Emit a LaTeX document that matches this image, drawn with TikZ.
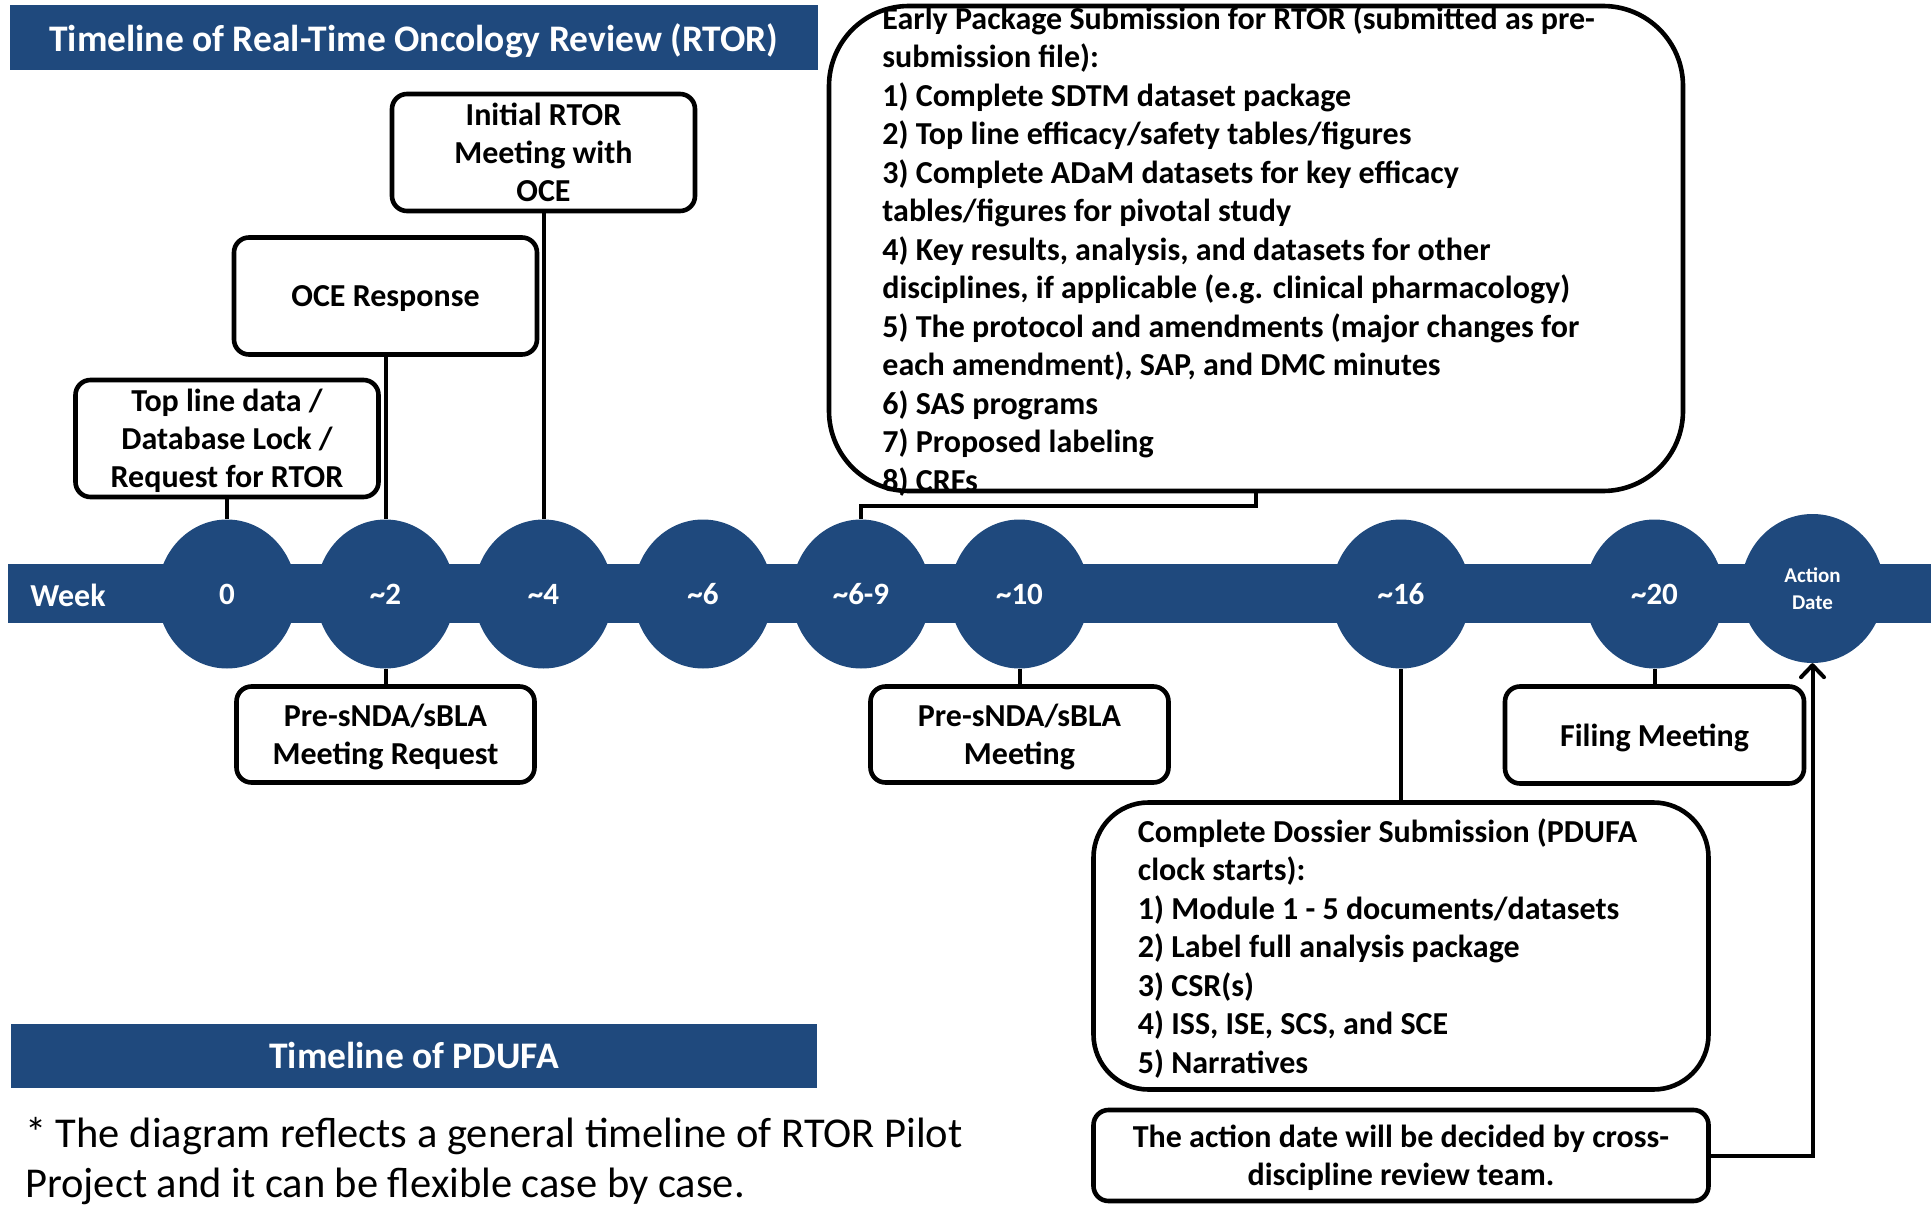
\documentclass[tikz,border=0pt]{standalone}
\usepackage{fontspec}
\setmainfont{Carlito}
\usepackage{tikz}
\usetikzlibrary{shapes.geometric}
\usetikzlibrary{arrows.meta}
\definecolor{rtorblue}{HTML}{1F497D}

\begin{document}
\begin{tikzpicture}[x=1pt, y=-1pt,
    banner/.style={fill=rtorblue, text=white, inner sep=0, text depth=0pt, font=\bfseries\fontsize{37.5}{45}\selectfont},
    weekdot/.style={ellipse, fill=rtorblue, text=white, minimum width=139pt, minimum height=149pt, inner sep=0, font=\bfseries\fontsize{31}{37}\selectfont},
    rtorbox/.style={draw, line width=4.6pt, rounded corners=15pt, fill=white, align=center, inner sep=0, text depth=0pt, font=\bfseries\fontsize{32}{38}\selectfont},
    listtext/.style={align=left, inner sep=0, text depth=0pt, font=\bfseries\fontsize{32}{38.5}\selectfont},
    link/.style={line width=4pt}]

    \useasboundingbox (0,0) rectangle (1931,1206);

    \node[banner, minimum width=808pt, minimum height=65pt] (rtortitle) at (414,37.5) {Timeline of Real-Time Oncology Review (RTOR)};
    \node[banner, minimum width=806pt, minimum height=64pt] (pdufatitle) at (414,1055.5) {Timeline of PDUFA};

    \node[fill=rtorblue, inner sep=0, minimum width=1923pt, minimum height=59pt, anchor=west] (weekbar) at (8,593.5) {};
    \node[text=white, inner sep=0, font=\bfseries\fontsize{32}{38}\selectfont] (weeklabel) at (68,595) {Week};

    \node[weekdot] (w0) at (227,594) {0};
    \node[weekdot] (w2) at (385.5,594) {\textasciitilde2};
    \node[weekdot] (w4) at (543.5,594) {\textasciitilde4};
    \node[weekdot] (w6) at (703,594) {\textasciitilde6};
    \node[weekdot] (w69) at (861,594) {\textasciitilde6-9};
    \node[weekdot] (w10) at (1019.5,594) {\textasciitilde10};
    \node[weekdot] (w16) at (1401,594) {\textasciitilde16};
    \node[weekdot] (w20) at (1654.5,594) {\textasciitilde20};
    \node[weekdot, minimum width=143pt, align=center, font=\bfseries\fontsize{21}{27}\selectfont] (wact) at (1812.5,588.5) {Action\\Date};

    \node[rtorbox, minimum width=303pt, minimum height=117pt] (initmeet) at (543.5,152.5) {Initial RTOR\\Meeting with\\OCE};
    \node[rtorbox, minimum width=303pt, minimum height=117pt] (oceresp) at (385.5,296) {OCE Response};
    \node[rtorbox, minimum width=303pt, minimum height=117pt] (topline) at (227,438.5) {Top line data /\\Database Lock /\\Request for RTOR};

    \node[rtorbox, minimum width=298pt, minimum height=96pt] (presreq) at (385.5,734.5) {Pre-sNDA/sBLA\\Meeting Request};
    \node[rtorbox, minimum width=298pt, minimum height=96pt] (presmeet) at (1019.5,734.5) {Pre-sNDA/sBLA\\Meeting};
    \node[rtorbox, minimum width=299pt, minimum height=97pt] (filing) at (1654.5,735) {Filing Meeting};

    \node[rtorbox, minimum width=854pt, minimum height=485pt, rounded corners=80pt] (early) at (1256,248.5) {};
    \node[listtext, anchor=west] (earlylist) at ([xshift=55.5pt]early.west) {Early Package Submission for RTOR (submitted as pre-\\submission file):\\1) Complete SDTM dataset package\\2) Top line efficacy/safety tables/figures\\3) Complete ADaM datasets for key efficacy\\tables/figures for pivotal study\\4) Key results, analysis, and datasets for other\\disciplines, if applicable (e.g. clinical pharmacology)\\5) The protocol and amendments (major changes for\\each amendment), SAP, and DMC minutes\\6) SAS programs\\7) Proposed labeling\\8) CRFs};

    \node[rtorbox, minimum width=615pt, minimum height=287pt, rounded corners=55pt] (dossier) at (1401,946) {};
    \node[listtext, anchor=west] (dossierlist) at ([xshift=46.5pt]dossier.west) {Complete Dossier Submission (PDUFA\\clock starts):\\1) Module 1 - 5 documents/datasets\\2) Label full analysis package\\3) CSR(s)\\4) ISS, ISE, SCS, and SCE\\5) Narratives};

    \node[rtorbox, minimum width=615pt, minimum height=91pt, text depth=-6pt] (actnote) at (1401,1155.5) {The action date will be decided by cross-\\discipline review team.};

    \node[align=left, anchor=north west, inner sep=0, font=\fontsize{42.5}{50}\selectfont] (footnote) at (25,1117) {* The diagram reflects a general timeline of RTOR Pilot\\Project and it can be flexible case by case.};

    \draw[link] (topline.south) -- (w0.north);
    \draw[link] (oceresp.south) -- (w2.north);
    \draw[link] (initmeet.south) -- (w4.north);
    \draw[link] (early.south) -- ++(0,13) -| (w69.north);

    \draw[link] (w2.south) -- (presreq.north);
    \draw[link] (w10.south) -- (presmeet.north);
    \draw[link] (w20.south) -- (filing.north);
    \draw[link] (w16.south) -- (dossier.north);
    \draw[link, -{Straight Barb[length=12pt, width=23pt, round]}] (actnote.east) -| (wact.south);
\end{tikzpicture}
\end{document}
